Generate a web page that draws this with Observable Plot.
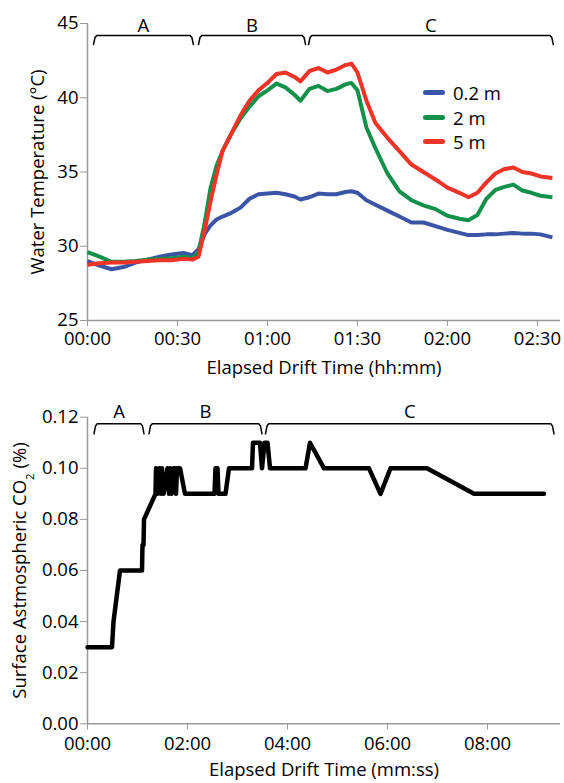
<!DOCTYPE html>
<html><head><meta charset="utf-8">
<script src="https://cdn.jsdelivr.net/npm/d3@7"></script>
<script src="https://cdn.jsdelivr.net/npm/@observablehq/plot@0.6"></script>
<style>
body{margin:0;background:#fff;font-family:"Open Sans",sans-serif;}
#wrap{position:relative;width:564px;height:783px;overflow:hidden;}
#top,#bottom{display:block;line-height:0;}
.legend{position:absolute;left:423px;top:80px;font-size:18.5px;color:#000;line-height:25px;}
.legend .row{height:24.7px;display:flex;align-items:center;}
.legend .sw{display:inline-block;width:22px;height:5px;border-radius:2.5px;margin-right:8px;}
</style></head><body>
<div id="wrap"><div id="top"></div><div id="bottom"></div><div class="legend" id="legend"></div></div>
<script>
// ---------- Data: water temperature ----------
const seriesNames = ["0.2 m", "2 m", "5 m"];
const seriesColors = ["#3b55a6", "#13914a", "#ee3327"];
const timeMin = [0,4,8,12,16,20,24,28,32,35,37,39,41,43,45,48,51,54,57,60,63,66,69,71,74,77,80,83,86,88,90,93,96,100,104,108,112,116,120,124,127,130,133,136,139,142,145,148,151,155];
const temp02 = [29.0,28.7,28.45,28.6,28.9,29.1,29.3,29.45,29.55,29.4,29.8,30.8,31.4,31.8,32.0,32.25,32.6,33.2,33.5,33.55,33.6,33.5,33.35,33.15,33.3,33.55,33.5,33.5,33.65,33.7,33.6,33.1,32.8,32.4,32.0,31.6,31.6,31.35,31.1,30.9,30.75,30.75,30.8,30.8,30.85,30.9,30.85,30.85,30.8,30.6];
const temp2  = [29.6,29.3,28.95,28.95,29.0,29.1,29.15,29.2,29.3,29.2,29.6,31.5,33.9,35.4,36.4,37.6,38.6,39.4,40.1,40.5,40.95,40.7,40.2,39.8,40.6,40.8,40.45,40.6,40.9,41.0,40.5,38.0,36.6,34.9,33.7,33.1,32.75,32.5,32.05,31.85,31.75,32.1,33.2,33.8,34.0,34.15,33.75,33.6,33.4,33.3];
const temp5  = [28.75,28.85,28.9,28.9,28.95,29.0,29.05,29.05,29.15,29.1,29.3,31.0,33.0,34.8,36.4,37.6,38.8,39.8,40.5,41.0,41.6,41.7,41.4,41.1,41.8,42.0,41.7,41.9,42.2,42.3,41.7,39.8,38.3,37.3,36.4,35.5,35.0,34.5,33.95,33.6,33.3,33.6,34.3,34.9,35.2,35.3,35.0,34.9,34.7,34.6];
const tempTicks = [0,30,60,90,120,150];
const tempYTicks = [25,30,35,40,45];

// ---------- Data: CO2 ----------
const co2Time  = [0,0.49,0.52,0.65,1.09,1.10,1.12,1.13,1.36,1.37,1.40,1.44,1.47,1.49,1.52,1.60,1.63,1.65,1.68,1.72,1.75,1.77,1.79,1.85,1.95,2.54,2.56,2.60,2.62,2.76,2.83,3.29,3.31,3.39,3.45,3.49,3.54,3.60,3.65,4.36,4.45,4.73,5.63,5.86,6.06,6.79,7.73,9.13];
const co2Value = [0.03,0.03,0.04,0.06,0.06,0.07,0.07,0.08,0.09,0.10,0.09,0.10,0.09,0.10,0.09,0.10,0.09,0.10,0.09,0.10,0.10,0.09,0.10,0.10,0.09,0.09,0.10,0.10,0.09,0.09,0.10,0.10,0.11,0.11,0.11,0.10,0.11,0.11,0.10,0.10,0.11,0.10,0.10,0.09,0.10,0.10,0.09,0.09];
const co2Ticks = [0,2,4,6,8];
const co2YTicks = [0,0.02,0.04,0.06,0.08,0.10,0.12];

// ---------- Phases ----------
const phaseNames = ["A","B","C"];
const tempPhaseStart = [2, 37, 73.7];
const tempPhaseEnd   = [35.3, 72.7, 155.3];
const co2PhaseStart  = [0.13, 1.23, 3.56];
const co2PhaseEnd    = [1.13, 3.49, 9.33];

// ---------- Helpers ----------
const pad2 = n => String(n).padStart(2, "0");
const fmtHM = m => pad2(Math.floor(m / 60)) + ":" + pad2(m % 60);
const fmtMS = m => pad2(m) + ":00";

function bracketRows(starts, ends, d, yt, yb) {
  const rows = [];
  phaseNames.forEach((p, i) => {
    const x1 = starts[i], x2 = ends[i];
    const ym = yt - 0.22 * (yt - yb);
    [[x1, yb], [x1 + 0.45 * d, ym], [x1 + d, yt], [x2 - d, yt], [x2 - 0.45 * d, ym], [x2, yb]]
      .forEach(([x, y]) => rows.push({phase: p, x, y}));
  });
  return rows;
}
function labelRows(starts, ends) {
  return phaseNames.map((p, i) => ({phase: p, x: (starts[i] + ends[i]) / 2}));
}
function stripArrows(svg) {
  d3.select(svg).selectAll('g[aria-label$="axis label"] text').each(function () {
    const t = d3.select(this);
    t.text(t.text().replace(/\s*[→←↑↓]\s*/g, ""));
  });
}

const font = {fontFamily: '"Open Sans", sans-serif', fontSize: "18.5px", color: "#000", background: "#fff", overflow: "visible"};
const axisGrey = "#999";

// ---------- Top chart ----------
const tempValues = [temp02, temp2, temp5];
const tempRows = [];
seriesNames.forEach((name, i) => timeMin.forEach((t, j) => tempRows.push({series: name, t, v: tempValues[i][j]})));

const topPlot = Plot.plot({
  width: 564, height: 392,
  marginLeft: 87, marginRight: 4, marginTop: 23, marginBottom: 72,
  style: font,
  x: {domain: [0, 157.7]},
  y: {domain: [25, 45]},
  color: {domain: seriesNames, range: seriesColors},
  marks: [
    Plot.ruleX([0], {stroke: axisGrey, strokeWidth: 1.5}),
    Plot.ruleY([25], {stroke: axisGrey, strokeWidth: 1.5}),
    Plot.axisX({ticks: tempTicks, tickFormat: fmtHM, tickSize: 6, tickPadding: 5, stroke: axisGrey,
      label: "Elapsed Drift Time (hh:mm)", labelAnchor: "center", labelOffset: 53, labelArrow: "none"}),
    Plot.axisY({ticks: tempYTicks, tickSize: 7, tickPadding: 2, stroke: axisGrey,
      label: "Water Temperature (°C)", labelAnchor: "center", labelOffset: 57, labelArrow: "none"}),
    Plot.line(tempRows, {x: "t", y: "v", stroke: "series", z: "series", strokeWidth: 4, strokeLinejoin: "round", strokeLinecap: "butt"}),
    Plot.line(bracketRows(tempPhaseStart, tempPhaseEnd, 1.1, 44.19, 43.58), {x: "x", y: "y", z: "phase", stroke: "#000", strokeWidth: 1.5}),
    Plot.text(labelRows(tempPhaseStart, tempPhaseEnd), {x: "x", y: 44.86, text: "phase", fill: "#000", fontSize: 18.5, lineAnchor: "middle"})
  ]
});
stripArrows(topPlot);
document.getElementById("top").appendChild(topPlot);

// ---------- Bottom chart ----------
const co2Rows = co2Time.map((t, i) => ({t, v: co2Value[i]}));
const bottomPlot = Plot.plot({
  width: 564, height: 391,
  marginLeft: 87, marginRight: 4, marginTop: 24.7, marginBottom: 59.7,
  style: font,
  x: {domain: [0, 9.46]},
  y: {domain: [0, 0.12]},
  marks: [
    Plot.ruleX([0], {stroke: axisGrey, strokeWidth: 1.5}),
    Plot.ruleY([0], {stroke: axisGrey, strokeWidth: 1.5}),
    Plot.axisX({ticks: co2Ticks, tickFormat: fmtMS, tickSize: 6, tickPadding: 7, stroke: axisGrey,
      label: "Elapsed Drift Time (mm:ss)", labelAnchor: "center", labelOffset: 52, labelArrow: "none"}),
    Plot.axisY({ticks: co2YTicks, tickFormat: d3.format(".2f"), tickSize: 7, tickPadding: 2, stroke: axisGrey,
      label: "Surface Astmospheric CO2 (%)", labelAnchor: "center", labelOffset: 75, labelArrow: "none"}),
    Plot.line(co2Rows, {x: "t", y: "v", stroke: "#000", strokeWidth: 4.5, strokeLinejoin: "round"}),
    Plot.line(bracketRows(co2PhaseStart, co2PhaseEnd, 0.065, 0.1174, 0.1135), {x: "x", y: "y", z: "phase", stroke: "#000", strokeWidth: 1.5}),
    Plot.text(labelRows(co2PhaseStart, co2PhaseEnd), {x: "x", y: 0.1222, text: "phase", fill: "#000", fontSize: 18.5, lineAnchor: "middle"})
  ]
});
stripArrows(bottomPlot);
document.getElementById("bottom").appendChild(bottomPlot);

// subscript in CO2 label
d3.select(bottomPlot).selectAll('g[aria-label="y-axis label"] text').each(function () {
  const t = d3.select(this);
  t.text(null);
  t.append("tspan").text("Surface Astmospheric CO");
  t.append("tspan").attr("baseline-shift", "sub").attr("font-size", "0.62em").text("2");
  t.append("tspan").text(" (%)");
});

// ---------- Legend ----------
const leg = d3.select("#legend");
seriesNames.forEach((n, i) => {
  const row = leg.append("div").attr("class", "row");
  row.append("span").attr("class", "sw").style("background", seriesColors[i]);
  row.append("span").text(n);
});
</script>
</body></html>
